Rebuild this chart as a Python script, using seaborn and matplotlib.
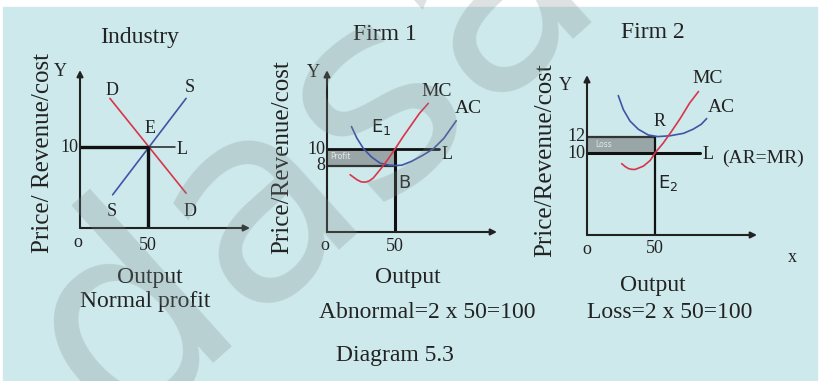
import matplotlib
matplotlib.use('Agg')
import matplotlib.pyplot as plt
import seaborn as sns

sns.set_theme(style='white')
plt.rcParams['font.family'] = ['Liberation Serif', 'DejaVu Serif']

######################################################### data
# Industry
ind_d_x = [22, 78]
ind_d_y = [16, 4.3]
ind_s_x = [24, 78]
ind_s_y = [4.1, 16]
ind_q = 50
ind_p = 10
ind_l_end = 70

# Firm 1 (abnormal profit)
f1_mc_x = [17, 22, 25, 28, 31, 34, 40, 45, 50, 56, 62, 68, 74.5]
f1_mc_y = [6.9, 6.3, 6.05, 6.0, 6.15, 6.5, 7.7, 8.8, 10.0, 11.5, 12.9, 14.3, 15.5]
f1_ac_x = [18, 22, 27, 33, 39, 46, 50, 55, 62, 70, 78, 86, 95]
f1_ac_y = [12.7, 11.3, 10.0, 9.0, 8.3, 8.05, 8.0, 8.05, 8.5, 9.2, 10.0, 11.3, 13.4]
f1_q = 50
f1_price = 10
f1_cost = 8
f1_l_end = 82

# Firm 2 (loss)
f2_mc_x = [25.5, 28, 30.5, 33, 35.5, 41.5, 46.5, 50, 56, 62, 68.5, 75.5, 82]
f2_mc_y = [8.7, 8.35, 8.1, 8.0, 8.0, 8.4, 9.1, 10.0, 11.2, 12.6, 14.2, 16.1, 17.5]
f2_ac_x = [23, 26.7, 31.6, 37.7, 45, 52, 61, 71, 78, 84, 88]
f2_ac_y = [17.0, 15.3, 13.9, 12.9, 12.2, 12.0, 12.1, 12.4, 12.9, 13.5, 14.2]
f2_q = 50
f2_price = 10
f2_cost = 12
f2_l_end = 83

x_max = 125
y_max = 19.5

######################################################### figure
W, H = 823, 381
fig = plt.figure(figsize=(W / 100, H / 100), dpi=100)
fig.patch.set_facecolor('white')

RED = '#d9344a'
BLUE = '#3f55a5'
INK = '#222222'
FILL = '#8d9597'

# background panel, pixel coords (y down)
bg = fig.add_axes([0, 0, 1, 1])
bg.set_xlim(0, W)
bg.set_ylim(H, 0)
bg.axis('off')
bg.add_patch(plt.Rectangle((3, 7), 814, 374, color='#cde9eb', zorder=0))


def make_panel(x0, y0, sy):
    # x0, y0 = pixel of the origin, sy = pixels per y unit
    w = x_max * 1.36
    h = y_max * sy
    ax = fig.add_axes([x0 / W, (H - y0) / H, w / W, h / H])
    ax.set_xlim(0, x_max)
    ax.set_ylim(0, y_max)
    ax.axis('off')
    ax.patch.set_alpha(0)
    arrow = dict(arrowstyle='-|>', color=INK, lw=1.5, mutation_scale=9, shrinkA=0, shrinkB=0)
    ax.annotate('', xy=(x_max, 0), xytext=(0, 0), arrowprops=arrow, annotation_clip=False)
    ax.annotate('', xy=(0, y_max), xytext=(0, 0), arrowprops=arrow, annotation_clip=False)
    return ax


def lbl(ax, x, y, s, size=13, **kw):
    kw.setdefault('ha', 'center')
    kw.setdefault('va', 'center')
    kw.setdefault('color', INK)
    ax.text(x, y, s, fontsize=size, **kw)


############### Industry
ax1 = make_panel(80, 228, 8.1)
sns.lineplot(x=ind_d_x, y=ind_d_y, ax=ax1, color=RED, lw=1.2, estimator=None, sort=False)
sns.lineplot(x=ind_s_x, y=ind_s_y, ax=ax1, color=BLUE, lw=1.2, estimator=None, sort=False)
ax1.plot([ind_q, ind_l_end], [ind_p, ind_p], color=INK, lw=1.1)
ax1.plot([0, ind_q], [ind_p, ind_p], color='#111', lw=2.4, solid_capstyle='butt')
ax1.plot([ind_q, ind_q], [0, ind_p], color='#111', lw=2.4, solid_capstyle='butt')
lbl(ax1, 23.5, 17, 'D')
lbl(ax1, 81, 17.3, 'S')
lbl(ax1, 51.5, 12.3, 'E')
lbl(ax1, 75, 9.75, 'L')
lbl(ax1, 23.5, 2, 'S')
lbl(ax1, 81, 2, 'D')
lbl(ax1, -1.2, ind_p, '10', ha='right')
lbl(ax1, -1.5, -1.8, 'o')
lbl(ax1, ind_q, -2.2, '50')
lbl(ax1, -14.7, 19.3, 'Y')

############### Firm 1
ax2 = make_panel(327, 232, 8.3)
ax2.fill_between([0, f1_q], f1_cost, f1_price, color=FILL, alpha=0.8, lw=0)
ax2.plot([0, f1_q], [f1_cost, f1_cost], color='#333', lw=1.6)
ax2.plot([0, f1_l_end], [f1_price, f1_price], color='#111', lw=2.0)
ax2.plot([f1_q, f1_q], [0, f1_price], color='#111', lw=2.2, solid_capstyle='butt')
sns.lineplot(x=f1_ac_x, y=f1_ac_y, ax=ax2, color=BLUE, lw=1.2, estimator=None, sort=False)
sns.lineplot(x=f1_mc_x, y=f1_mc_y, ax=ax2, color=RED, lw=1.2, estimator=None, sort=False)
lbl(ax2, 80.6, 16.9, 'MC', size=14)
lbl(ax2, 104, 14.9, 'AC', size=14)
lbl(ax2, 40, 12.7, r'$\mathregular{E_1}$', size=13, family='DejaVu Sans')
lbl(ax2, 57, 5.9, 'B', family='DejaVu Sans')
lbl(ax2, 88, 9.3, 'L')
lbl(ax2, 10, 9.05, 'Profit', size=5.5, color='#e6e6e6', family='DejaVu Sans')
lbl(ax2, -1, f1_price, '10', ha='right')
lbl(ax2, -1, f1_cost, '8', ha='right')
lbl(ax2, -1.5, -1.6, 'o')
lbl(ax2, f1_q, -1.8, '50')
lbl(ax2, -10, 19.2, 'Y')

############### Firm 2
ax3 = make_panel(587, 235, 8.2)
ax3.fill_between([0, f2_q], f2_price, f2_cost, color=FILL, alpha=0.8, lw=0)
ax3.plot([0, f2_q], [f2_cost, f2_cost], color='#333', lw=1.6)
ax3.plot([0, f2_l_end], [f2_price, f2_price], color='#111', lw=2.2)
ax3.plot([f2_q, f2_q], [0, f2_cost], color='#111', lw=1.6, solid_capstyle='butt')
sns.lineplot(x=f2_ac_x, y=f2_ac_y, ax=ax3, color=BLUE, lw=1.2, estimator=None, sort=False)
sns.lineplot(x=f2_mc_x, y=f2_mc_y, ax=ax3, color=RED, lw=1.2, estimator=None, sort=False)
lbl(ax3, 89, 19.1, 'MC', size=14)
lbl(ax3, 99, 15.5, 'AC', size=14)
lbl(ax3, 53, 13.8, 'R')
lbl(ax3, 60, 6.3, r'$\mathregular{E_2}$', size=13, family='DejaVu Sans')
lbl(ax3, 89, 9.8, 'L')
lbl(ax3, 99, 9.4, '(AR=MR)', size=14, ha='left')
lbl(ax3, 12, 11, 'Loss', size=5.5, color='#e6e6e6', family='DejaVu Sans')
lbl(ax3, -1, f2_cost, '12', ha='right')
lbl(ax3, -1, f2_price, '10', ha='right')
lbl(ax3, 0, -1.8, 'o')
lbl(ax3, f2_q, -1.6, '50')
lbl(ax3, 151, -2.7, 'x')
lbl(ax3, -16, 18.2, 'Y')

############### titles / captions (pixel coords)
big = 17
for x, y, s in [(140, 37, 'Industry'), (385, 35, 'Firm 1'), (653, 32, 'Firm 2'),
                (150, 278, 'Output'), (145, 302, 'Normal profit'),
                (408, 277, 'Output'), (427, 312, 'Abnormal=2 x 50=100'),
                (653, 285, 'Output'), (670, 313, 'Loss=2 x 50=100'),
                (395, 355, 'Diagram 5.3')]:
    bg.text(x, y, s, fontsize=big, ha='center', va='center', color=INK)

for x, y, s in [(43, 153, 'Price/ Revenue/cost'), (282, 157, 'Price/Revenue/cost'),
                (545, 160, 'Price/Revenue/cost')]:
    bg.text(x, y, s, fontsize=18, ha='center', va='center', rotation=90, color=INK)

# watermark
fig.text(115.5 / W, -55.7 / H, 'dasalai', rotation=42, rotation_mode='anchor',
         ha='left', va='baseline', fontsize=200, family='DejaVu Sans',
         color='#7f8a8a', alpha=0.26, zorder=10)

fig.savefig('out.png', dpi=100, facecolor='white')
